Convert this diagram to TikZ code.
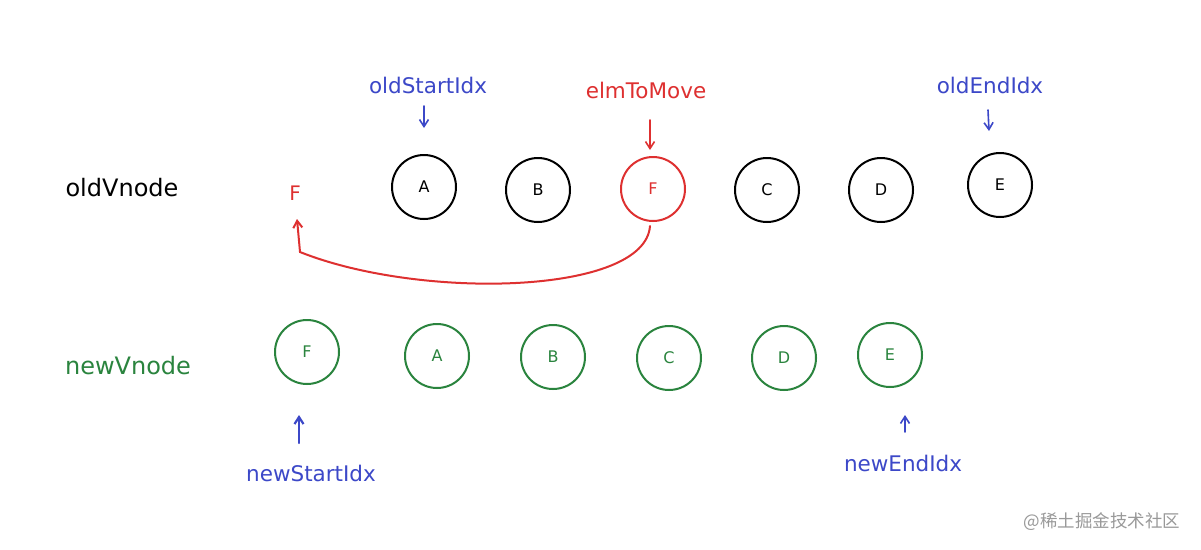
\documentclass[tikz,border=0pt]{standalone}
\usepackage{fontspec}
\setmainfont{DejaVu Sans}
\newfontfamily\cjk{Noto Sans CJK SC}
\usetikzlibrary{arrows.meta}
\definecolor{iblue}{RGB}{60,72,200}
\definecolor{ired}{RGB}{222,48,48}
\definecolor{igreen}{RGB}{42,132,62}
\begin{document}
\begin{tikzpicture}[x=1pt,y=-1pt,
  oldc/.style={circle,draw=black,line width=2pt,minimum size=64pt,inner sep=0pt,font=\fontsize{16}{18}\selectfont},
  newc/.style={circle,draw=igreen,text=igreen,line width=2pt,minimum size=64pt,inner sep=0pt,font=\fontsize{16}{18}\selectfont},
  lbl/.style={font=\fontsize{24}{28}\selectfont},
  idx/.style={font=\fontsize{21.5}{25}\selectfont,text=iblue},
  parr/.style={-{Straight Barb[length=7pt,width=9pt]},line width=1.6pt,line cap=round}]
\useasboundingbox (0,0) rectangle (1201,549);
\fill[white] (0,0) rectangle (1201,549);
% row labels
\node[lbl] (oldv) at (122,188) {oldVnode};
\node[lbl,text=igreen] (newv) at (128,366) {newVnode};
% old row
\node[text=ired,font=\fontsize{20}{22}\selectfont] (oF) at (295,193) {F};
\node[oldc] (oA) at (424,187) {A};
\node[oldc] (oB) at (538,190) {B};
\node[oldc,draw=ired,text=ired] (oFm) at (653,189) {F};
\node[oldc] (oC) at (767,190) {C};
\node[oldc] (oD) at (881,190) {D};
\node[oldc] (oE) at (1000,185) {E};
% new row
\node[newc] (nF) at (307,352) {F};
\node[newc] (nA) at (437,356) {A};
\node[newc] (nB) at (553,357) {B};
\node[newc] (nC) at (669,358) {C};
\node[newc] (nD) at (784,358) {D};
\node[newc] (nE) at (890,355) {E};
% index labels
\node[idx] (osi) at (428,85) {oldStartIdx};
\coordinate (osia) at (424,106);
\draw[parr,iblue] (osia) -- ++(0,22);
\node[idx,text=ired] (etm) at (646,90) {elmToMove};
\coordinate (etma) at (650,120);
\draw[parr,ired] (etma) -- ++(0,30);
\node[idx] (oei) at (990,85) {oldEndIdx};
\coordinate (oeia) at (988,110);
\draw[parr,iblue] (oeia) -- ++(1,21);
\node[idx] (nsi) at (311,473) {newStartIdx};
\coordinate (nsia) at (299,443);
\draw[parr,iblue,line width=2.2pt] (nsia) -- ++(0,-28);
\node[idx] (nei) at (903,463) {newEndIdx};
\coordinate (neia) at (905,432);
\draw[parr,iblue] (neia) -- ++(0,-17);
% move curve
\draw[parr,ired,line width=2pt] (oFm.south) ++(-3,4) .. controls (645,295) and (420,300) .. (300,252) -- (297,219);
% watermark
\node[text=black!40,font=\cjk\fontsize{17.5}{20}\selectfont] (wm) at (1102,522) {@稀土掘金技术社区};
\end{tikzpicture}
\end{document}
